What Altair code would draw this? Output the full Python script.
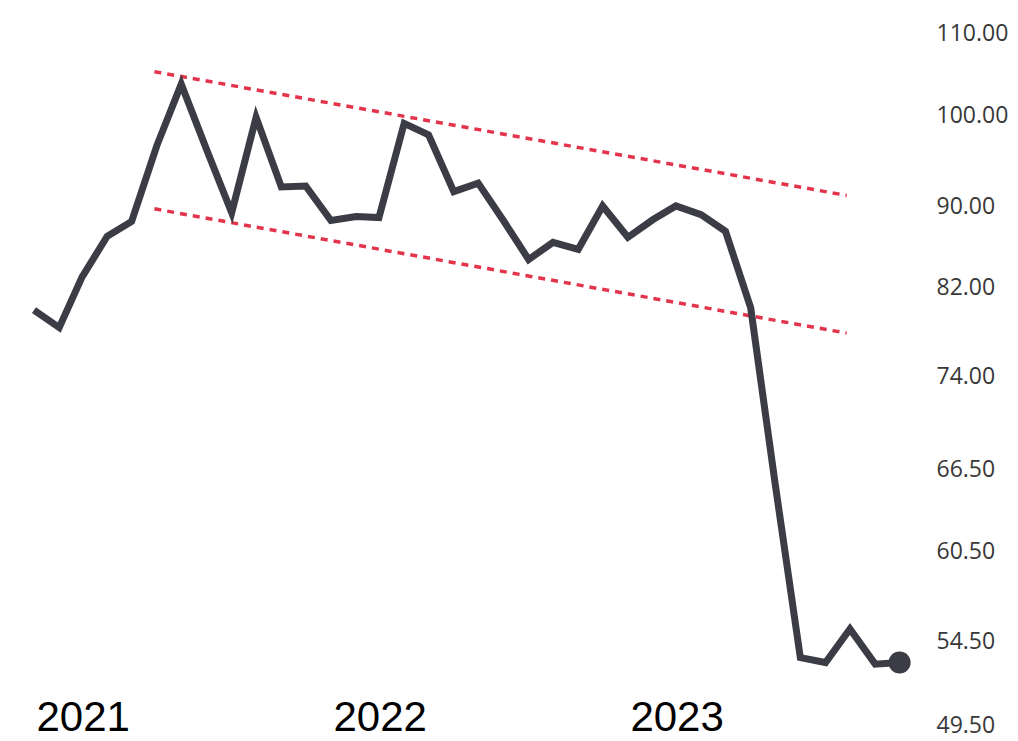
import altair as alt
import pandas as pd

# Monthly closing values, Jan 2021 - Dec 2023
months = pd.date_range("2021-01-01", periods=36, freq="MS").strftime("%Y-%m-%d").tolist()
prices = [
    79.9, 78.3, 83.0, 87.0, 88.5, 96.6, 103.7, 96.2, 89.4, 99.8, 92.1, 92.2,
    88.6, 89.0, 88.9, 99.1, 97.8, 91.6, 92.5, 88.6, 84.7, 86.4, 85.7, 90.1,
    86.9, 88.7, 90.1, 89.2, 87.5, 80.1, 65.4, 53.5, 53.2, 55.3, 53.1, 53.2,
]

# Descending channel lines (start / end)
band_names = ["upper", "upper", "lower", "lower"]
band_dates = ["2021-05-29", "2023-09-27", "2021-05-29", "2023-09-27"]
band_values = [105.2, 91.2, 89.8, 77.8]

tick_values = [110, 100, 90, 82, 74, 66.5, 60.5, 54.5, 49.5]
years = [2021, 2022, 2023]

df = pd.DataFrame({"date": months, "price": prices})
last = df.tail(1)
bands = pd.DataFrame({"band": band_names, "date": band_dates, "price": band_values})

x_scale = alt.Scale(
    domain=[alt.DateTime(year=2021, month=1, date=1), alt.DateTime(year=2023, month=12, date=31)],
    nice=False,
)
y_scale = alt.Scale(type="log", domain=[49.5, 110], nice=False)

x_axis = alt.Axis(
    values=[alt.DateTime(year=y, month=1, date=1) for y in years],
    format="%Y",
    labelAlign="left",
    labelBaseline="alphabetic",
    labelPadding=5,
    labelOffset=2,
    labelFontSize=42,
    labelFont="Liberation Sans",
    labelColor="#000000",
    labelFlush=False,
    labelOverlap=False,
    ticks=False,
    domain=False,
    grid=False,
    title=None,
)
y_axis = alt.Axis(
    orient="right",
    values=tick_values,
    format=".2f",
    labelPadding=12,
    labelFontSize=23,
    labelFont="Open Sans",
    labelColor="#383838",
    ticks=False,
    domain=False,
    grid=False,
    title=None,
)

X = alt.X("date:T", scale=x_scale, axis=x_axis)
Y = alt.Y("price:Q", scale=y_scale, axis=y_axis)

line = alt.Chart(df).mark_line(color="#3b3c45", strokeWidth=7).encode(x=X, y=Y)
dot = alt.Chart(last).mark_point(filled=True, color="#3b3c45", size=490, opacity=1).encode(
    x=alt.X("date:T", scale=x_scale), y=alt.Y("price:Q", scale=y_scale)
)
channel = alt.Chart(bands).mark_line(
    color="#e3344c", strokeWidth=3.5, strokeDash=[7, 6]
).encode(
    x=alt.X("date:T", scale=x_scale),
    y=alt.Y("price:Q", scale=y_scale),
    detail="band:N",
)

chart = (
    alt.layer(channel, line, dot)
    .properties(
        width=890,
        height=692,
        padding={"left": 26, "top": 25, "right": 86, "bottom": 30},
        autosize=alt.AutoSizeParams(type="none"),
        background="white",
    )
    .configure_view(stroke="transparent", strokeWidth=0)
)

chart.save("out.html", embed_options={"renderer": "svg", "actions": False})
